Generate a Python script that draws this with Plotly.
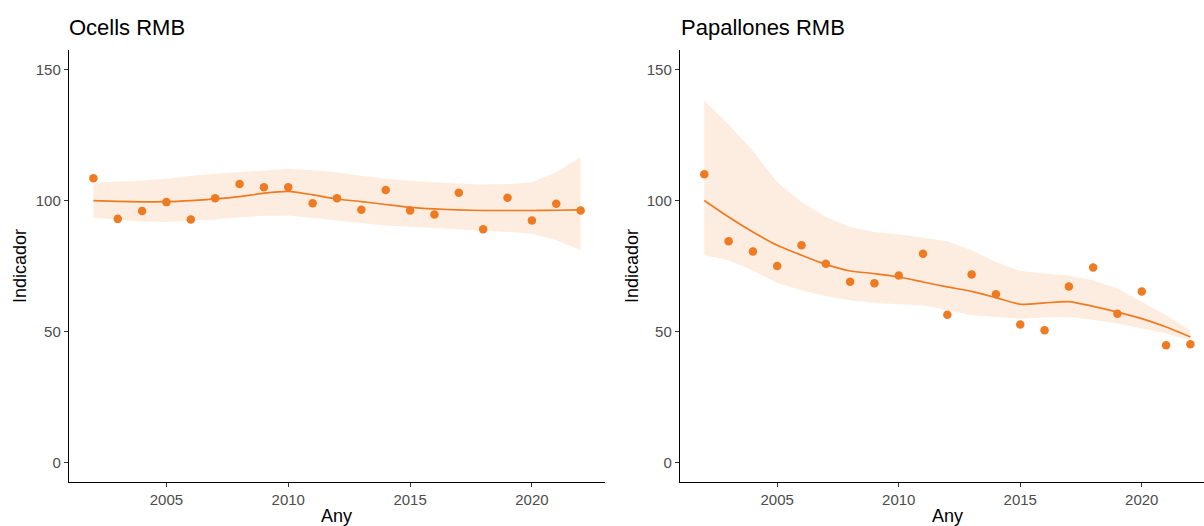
import plotly.graph_objects as go

years = list(range(2002, 2023))

# Ocells RMB (birds)
birds_obs = [108.5, 93.0, 96.0, 99.4, 92.8, 100.9, 106.3, 105.1, 105.1, 99.0, 100.9,
             96.5, 104.0, 96.2, 94.7, 103.0, 89.0, 101.1, 92.4, 98.8, 96.2]
birds_fit = [100.0, 99.7, 99.5, 99.6, 100.0, 100.6, 101.5, 102.8, 103.5, 102.2, 100.6,
             99.6, 98.5, 97.4, 96.8, 96.4, 96.2, 96.2, 96.2, 96.3, 96.4]
birds_hi = [106.8, 107.2, 107.7, 108.3, 109.5, 110.2, 110.8, 111.6, 112.1, 111.6, 110.8,
            109.5, 108.3, 107.6, 107.0, 106.5, 106.1, 106.3, 107.0, 110.8, 116.6]
birds_lo = [93.4, 92.6, 92.0, 91.8, 92.3, 92.8, 93.6, 94.2, 94.3, 93.4, 92.5,
            91.5, 90.5, 90.0, 89.5, 89.0, 88.6, 88.0, 87.3, 84.8, 81.0]

# Papallones RMB (butterflies)
butt_obs = [110.0, 84.5, 80.5, 75.0, 82.9, 75.9, 69.0, 68.4, 71.4, 79.7, 56.4,
            71.8, 64.2, 52.7, 50.5, 67.2, 74.4, 56.8, 65.3, 44.7, 45.1]
butt_fit = [100.0, 93.7, 88.0, 82.9, 79.1, 75.6, 73.1, 72.1, 70.8, 68.9, 67.0,
            65.3, 62.9, 60.4, 60.9, 61.4, 59.6, 57.4, 54.9, 51.7, 47.9]
butt_hi = [138.2, 129.0, 119.0, 107.0, 99.4, 93.7, 89.9, 88.0, 87.1, 85.8, 84.5,
           81.0, 76.5, 73.1, 72.1, 71.4, 69.5, 66.4, 61.3, 56.2, 50.5]
butt_lo = [79.1, 77.2, 73.3, 68.5, 65.7, 63.4, 61.9, 60.9, 60.4, 60.0, 58.1,
           56.2, 55.5, 54.9, 55.3, 55.5, 54.5, 53.0, 51.1, 49.2, 46.5]

titles = ["Ocells RMB", "Papallones RMB"]
y_ticks = [0, 50, 100, 150]
x_ticks = [2005, 2010, 2015, 2020]
x_title = "Any"
y_title = "Indicador"

ORANGE = "#EE7A22"
BAND = "rgba(246,165,100,0.2)"

W, H = 1204, 526
fig = go.Figure()

panels = [
    (birds_obs, birds_fit, birds_hi, birds_lo, "x", "y"),
    (butt_obs, butt_fit, butt_hi, butt_lo, "x2", "y2"),
]
for obs, fit, hi, lo, xa, ya in panels:
    fig.add_trace(go.Scatter(x=years, y=lo, mode="lines", line=dict(width=0),
                             hoverinfo="skip", showlegend=False, xaxis=xa, yaxis=ya))
    fig.add_trace(go.Scatter(x=years, y=hi, mode="lines", line=dict(width=0),
                             fill="tonexty", fillcolor=BAND,
                             hoverinfo="skip", showlegend=False, xaxis=xa, yaxis=ya))
    fig.add_trace(go.Scatter(x=years, y=fit, mode="lines",
                             line=dict(color=ORANGE, width=1.7, shape="spline", smoothing=0.6),
                             showlegend=False, xaxis=xa, yaxis=ya))
    fig.add_trace(go.Scatter(x=years, y=obs, mode="markers",
                             marker=dict(color=ORANGE, size=8.5),
                             showlegend=False, xaxis=xa, yaxis=ya))

font_main = "Liberation Sans, Arial, sans-serif"
y_dom = [(526 - 482) / H, (526 - 50) / H]
axis_common = dict(showgrid=False, zeroline=False, showline=True, linecolor="black",
                   linewidth=1.4, ticks="outside", ticklen=4, tickwidth=1.2,
                   tickcolor="#333333",
                   tickfont=dict(family=font_main, size=15, color="#4D4D4D"))

fig.update_layout(
    width=W, height=H,
    margin=dict(l=0, r=0, t=0, b=0),
    paper_bgcolor="white", plot_bgcolor="white",
    xaxis=dict(domain=[69 / W, 605 / W], range=[2001, 2023], tickvals=x_ticks,
               anchor="y", **axis_common),
    yaxis=dict(domain=y_dom, range=[-7.5, 157.5], tickvals=y_ticks, anchor="x",
               **axis_common),
    xaxis2=dict(domain=[680 / W, 1.0], range=[2001, 2022.56], tickvals=x_ticks,
                anchor="y2", **axis_common),
    yaxis2=dict(domain=y_dom, range=[-7.5, 157.5], tickvals=y_ticks, anchor="x2",
                **axis_common),
    showlegend=False,
)

# panel titles
for txt, xpix in zip(titles, [67, 679]):
    fig.add_annotation(text=txt, xref="paper", yref="paper", x=xpix / W, y=(526 - 27) / H,
                       xanchor="left", yanchor="middle", showarrow=False,
                       font=dict(family=font_main, size=22, color="black"))
# axis titles
for xc in [337, 947]:
    fig.add_annotation(text=x_title, xref="paper", yref="paper", x=xc / W, y=(526 - 516) / H,
                       xanchor="center", yanchor="middle", showarrow=False,
                       font=dict(family=font_main, size=18, color="black"))
for xc in [20, 632]:
    fig.add_annotation(text=y_title, xref="paper", yref="paper", x=xc / W, y=(526 - 266) / H,
                       xanchor="center", yanchor="middle", showarrow=False, textangle=-90,
                       font=dict(family=font_main, size=18, color="black"))

fig.write_html("out.html", config={"displayModeBar": False},
               post_script="document.body.style.margin='0px';document.body.style.overflow='hidden';")
